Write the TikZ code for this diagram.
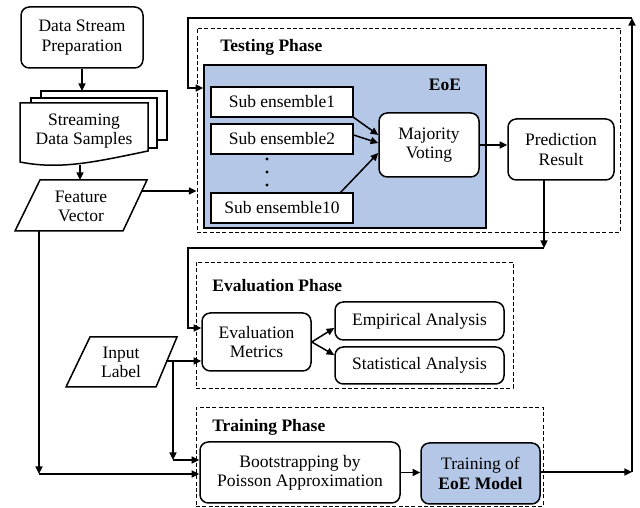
\documentclass[tikz,border=0pt]{standalone}
\usepackage{fontspec}
\setmainfont{Liberation Serif}
\usetikzlibrary{arrows.meta}
\definecolor{eoeblue}{RGB}{180,199,231}
\begin{document}
\begin{tikzpicture}[x=0.6pt,y=-0.6pt,
  every node/.style={font=\fontsize{10.5}{11.5}\selectfont, inner sep=0pt, align=center},
  ln/.style={line width=0.9pt},
  arr/.style={ln, -{Triangle[length=4.6pt,width=4.2pt]}},
  rbox/.style={draw, ln, rounded corners=5pt, fill=white},
  sbox/.style={draw, line width=0.7pt, fill=white, minimum width=85.2pt, minimum height=18pt},
  phase/.style={draw, line width=0.5pt, dash pattern=on 2.4pt off 1.4pt},
  plabel/.style={font=\fontsize{10.5}{11.5}\selectfont\bfseries, anchor=west}]
\useasboundingbox (0,0) rectangle (640,508);

% ---- left column -------------------------------------------------
\node[rbox, minimum width=73.2pt, minimum height=36.6pt] (dsp) at (82,37.5)
  {Data Stream\\Preparation};

% stacked document
\draw[ln, fill=white] (41,91) rectangle (167,140);
\draw[ln, fill=white] (31,98) rectangle (157,148);
\draw[ln, fill=white] (20,103) -- (148,103) -- (148,151)
  .. controls (95,162) and (60,170) .. (20,162) -- cycle;
\node (sds) at (84,131) {Streaming\\Data Samples};
\coordinate (docTop) at (82,91);
\coordinate (docBot) at (80,165);

% feature vector (parallelogram)
\draw[ln, fill=white] (40,180) -- (147,180) -- (123,231) -- (15,231) -- cycle;
\node (fv) at (81,206) {Feature\\Vector};
\coordinate (fvTop) at (80,180);
\coordinate (fvR) at (142,191);
\coordinate (fvB) at (39,231);
\coordinate (fvC) at (39,474);

% input label (parallelogram)
\draw[ln, fill=white] (90,337) -- (177,337) -- (156,387) -- (66,387) -- cycle;
\node (il) at (121,362) {Input\\Label};
\coordinate (ilR) at (166,361);
\coordinate (ilSplit) at (173,361);
\coordinate (ilC) at (173,460);

% ---- testing phase -----------------------------------------------
\node[phase, minimum width=253.8pt, minimum height=122.4pt] (test) at (408.5,130) {};
\node[plabel] at (220,47) {Testing Phase};
\node[draw, ln, fill=eoeblue, minimum width=169.2pt, minimum height=97.8pt] (eoe) at (345,146.5) {};
\node[font=\fontsize{10.5}{11.5}\selectfont\bfseries] at (445,85) {EoE};
\node[sbox] (s1) at (282,102) {Sub ensemble1};
\node[sbox] (s2) at (282,139) {Sub ensemble2};
\node[sbox] (s10) at (282,208) {Sub ensemble10};
\foreach \yy in {159,172,185} \fill (267,\yy) circle (1.6);
\node[rbox, minimum width=60pt, minimum height=38.4pt] (mv) at (429,145) {Majority\\Voting};
\node[rbox, minimum width=63.6pt, minimum height=36.6pt] (pr) at (561,149.5) {Prediction\\Result};
\coordinate (prOut) at (544,180);
\coordinate (prDown) at (544,248);
\coordinate (loopL) at (188,248);
\coordinate (loopLB) at (188,328);

% ---- evaluation phase --------------------------------------------
\node[phase, minimum width=190.2pt, minimum height=75.6pt] (eval) at (354.5,325) {};
\node[plabel] at (212,286) {Evaluation Phase};
\node[rbox, minimum width=65.4pt, minimum height=34.8pt] (em) at (256.5,342) {Evaluation\\Metrics};
\node[rbox, minimum width=101.4pt, minimum height=22.8pt] (emp) at (419.5,321) {Empirical Analysis};
\node[rbox, minimum width=101.4pt, minimum height=22.2pt] (stat) at (419.5,365.5) {Statistical Analysis};

% ---- training phase ----------------------------------------------
\node[phase, minimum width=208.2pt, minimum height=59.4pt] (train) at (369.5,456.5) {};
\node[plabel] at (212,427) {Training Phase};
\node[rbox, minimum width=120pt, minimum height=36.6pt] (boot) at (300,472.5)
  {Bootstrapping by\\Poisson Approximation};
\node[rbox, fill=eoeblue, minimum width=71.4pt, minimum height=36.6pt] (tre) at (480.5,473.5)
  {Training of\\\textbf{EoE Model}};
\coordinate (fbR) at (632,472);
\coordinate (fbT) at (632,18);
\coordinate (fbL) at (188,18);
\coordinate (fbLB) at (188,88);

% ---- connectors --------------------------------------------------
\draw[arr] (dsp.south) -- (docTop);
\draw[arr] (docBot) -- (fvTop);
\draw[arr] (fvR) -- (fvR -| test.west);
\draw[arr] (fvB) -- (fvC);
\draw[arr] (fvC) -- (fvC -| boot.west);

\draw[arr] (353,117) -- (mv.west |- 0,135);
\draw[arr] (s2.east |- 0,135) -- (mv.west |- 0,143);
\draw[arr] (340,193) -- (mv.west |- 0,153);
\draw[arr] (mv.east) -- (mv.east -| pr.west);

\draw[arr] (prOut) -- (prDown);
\draw[arr] (prDown) -- (loopL) -- (loopLB) -- (loopLB -| em.west);

\draw[arr] (ilR) -- (ilR -| em.west);
\draw[arr] (ilSplit) -- (ilC);
\draw[arr] (ilC) -- (ilC -| boot.west);

\draw[arr] (em.east) -- (emp.west |- 0,328);
\draw[arr] (em.east) -- (stat.west |- 0,355);

\draw[arr] (boot.east) -- (boot.east -| tre.west);
\draw[arr] (tre.east |- fbR) -- (fbR);
\draw[arr] (fbR) -- (fbT);
\draw[arr] (fbT) -- (fbL) -- (fbLB) -- (fbLB -| eoe.west);
\end{tikzpicture}
\end{document}
